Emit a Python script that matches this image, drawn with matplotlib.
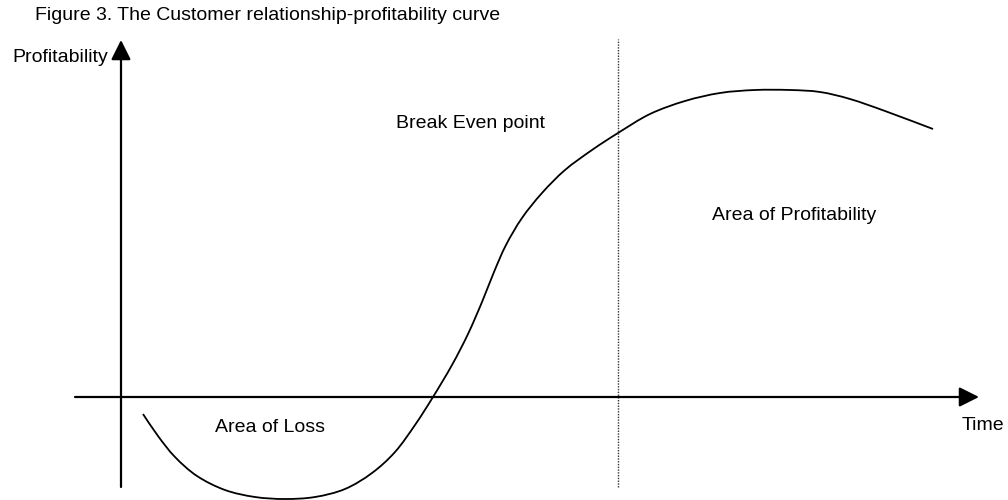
import matplotlib
matplotlib.use("Agg")
import matplotlib.pyplot as plt
from matplotlib.path import Path
from matplotlib.patches import PathPatch

plt.rcParams['font.family'] = ['Liberation Sans', 'DejaVu Sans']

# curve: time vs profitability (arbitrary units)
time = [2.2, 3.7, 5.4, 7.6, 10.4, 13.4, 16.4, 19.4, 22.4, 25.1, 27.4, 29.4,
        31.2, 33.1, 34.7, 36.1, 37.3, 38.5, 40.1, 42.1, 44.4, 47.1, 49.7,
        52.9, 56.4, 59.9, 63.4, 66.9, 69.9, 72.9, 76.4, 81.2]
profit = [-1.7, -3.9, -6.0, -7.9, -9.3, -10.0, -10.2, -10.0, -9.2, -7.6, -5.5, -2.8,
          0.0, 3.2, 6.3, 9.5, 12.5, 15.2, 17.9, 20.4, 22.7, 24.7, 26.4,
          28.3, 29.6, 30.4, 30.7, 30.7, 30.5, 29.8, 28.6, 26.8]

break_even_time = 49.7
title = "Figure 3. The Customer relationship-profitability curve"

fig = plt.figure(figsize=(10.08, 5.0), dpi=100)
ax = fig.add_axes([0, 0, 1, 1])
ax.set_xlim(-12.1, 88.7)
ax.set_ylim(-10.3, 39.7)
ax.axis('off')

# axes with arrow heads
arrow = dict(arrowstyle='-|>', mutation_scale=30, lw=1.6, color='black',
             shrinkA=0, shrinkB=0)
ax.annotate('', xy=(85.8, 0), xytext=(-4.6, 0), arrowprops=arrow)
ax.annotate('', xy=(0, 35.7), xytext=(0, -9.0), arrowprops=arrow)

# dotted vertical line
ax.plot([break_even_time, break_even_time], [-9.0, 35.8], color='#333333',
        lw=1.0, linestyle=(0, (1, 1)))

# the curve, drawn as a smooth bezier path through the read points
pts = list(zip(time, profit))
verts = [pts[0]]
codes = [Path.MOVETO]
for i in range(len(pts) - 1):
    p0 = pts[max(i - 1, 0)]
    p1 = pts[i]
    p2 = pts[i + 1]
    p3 = pts[min(i + 2, len(pts) - 1)]
    c1 = (p1[0] + (p2[0] - p0[0]) / 6, p1[1] + (p2[1] - p0[1]) / 6)
    c2 = (p2[0] - (p3[0] - p1[0]) / 6, p2[1] - (p3[1] - p1[1]) / 6)
    verts += [c1, c2, p2]
    codes += [Path.CURVE4] * 3
ax.add_patch(PathPatch(Path(verts, codes), fill=False, edgecolor='black',
                       lw=1.3, capstyle='butt'))

fs = 14
ax.text(-8.6, 38.1, title, fontsize=fs, va='center', ha='left')
ax.text(-10.9, 34.0, "Profitability", fontsize=fs, va='center', ha='left')
ax.text(84.1, -2.8, "Time", fontsize=fs, va='center', ha='left')
ax.text(27.5, 27.4, "Break Even point", fontsize=fs, va='center', ha='left')
ax.text(59.1, 18.1, "Area of Profitability", fontsize=fs, va='center', ha='left')
ax.text(9.4, -3.1, "Area of Loss", fontsize=fs, va='center', ha='left')

fig.savefig("out.png", dpi=100)
